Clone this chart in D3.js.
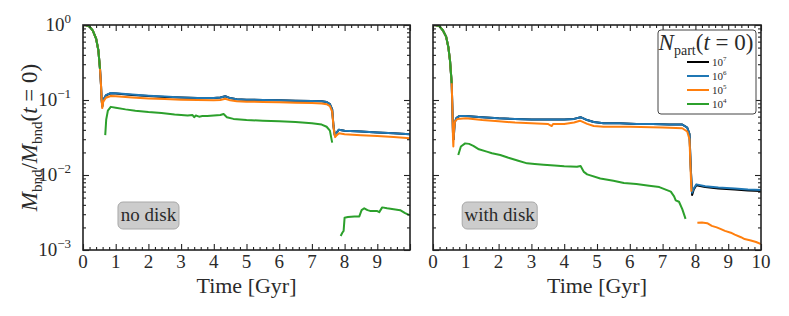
<!DOCTYPE html>
<html>
<head>
<meta charset="utf-8">
<script src="https://cdn.jsdelivr.net/npm/d3@7"></script>
<style>
  body { margin: 0; background: #fff; }
  svg { display: block; }
</style>
</head>
<body>
<div id="chart"></div>
<script>
// ---- data: [time (Gyr), Mbnd / Mbnd(t=0)] ----
var xTicks = [0, 1, 2, 3, 4, 5, 6, 7, 8, 9, 10];
var yTicks = [1e-3, 1e-2, 1e-1, 1];
var yTickExp = ['\u22123', '\u22122', '\u22121', '0'];
var legendLabels = ['7', '6', '5', '4'];
var seriesColors = ['#000000', '#1f77b4', '#ff7f0e', '#2ca02c'];
var panelLabels = ['no disk', 'with disk'];

// early tidal decline shared by all resolutions
var earlyNoDisk = [[0, 1.0], [0.1, 0.99], [0.2, 0.95], [0.3, 0.84], [0.4, 0.66], [0.47, 0.46], [0.52, 0.26]];
var earlyDisk = [[0, 1.0], [0.1, 0.99], [0.2, 0.96], [0.3, 0.85], [0.4, 0.7], [0.47, 0.5], [0.52, 0.33], [0.55, 0.22], [0.57, 0.167]];

// no disk
var noDisk1e7 = [[0.55, 0.16], [0.57, 0.1], [0.59, 0.082], [0.62, 0.1], [0.7, 0.115], [0.85, 0.123], [1.0, 0.122], [1.5, 0.117], [2, 0.113], [2.5, 0.11], [3, 0.108], [3.5, 0.106], [4.0, 0.106], [4.2, 0.108], [4.35, 0.112], [4.5, 0.106], [4.7, 0.102], [5.0, 0.101], [5.5, 0.1], [6, 0.099], [6.5, 0.098], [7.0, 0.097], [7.3, 0.096], [7.45, 0.094], [7.55, 0.088], [7.62, 0.075], [7.66, 0.045], [7.7, 0.034], [7.74, 0.036], [7.82, 0.04], [8.0, 0.039], [8.5, 0.038], [9.0, 0.037], [9.5, 0.036], [10, 0.035]];
var noDisk1e6 = [[0.55, 0.16], [0.57, 0.1], [0.59, 0.082], [0.62, 0.1], [0.7, 0.116], [0.85, 0.124], [1.0, 0.123], [1.5, 0.118], [2, 0.114], [2.5, 0.111], [3, 0.108], [3.5, 0.106], [4.0, 0.106], [4.2, 0.108], [4.35, 0.112], [4.5, 0.106], [4.7, 0.102], [5.0, 0.101], [5.5, 0.1], [6, 0.099], [6.5, 0.098], [7.0, 0.097], [7.3, 0.096], [7.45, 0.094], [7.55, 0.088], [7.62, 0.075], [7.66, 0.045], [7.7, 0.034], [7.74, 0.036], [7.82, 0.04], [8.0, 0.039], [8.5, 0.038], [9.0, 0.037], [9.5, 0.036], [10, 0.035]];
var noDisk1e5 = [[0.55, 0.16], [0.57, 0.1], [0.59, 0.078], [0.62, 0.095], [0.7, 0.107], [0.85, 0.113], [1.0, 0.112], [1.5, 0.108], [2, 0.105], [2.5, 0.103], [3, 0.101], [3.5, 0.1], [4, 0.099], [4.2, 0.1], [4.35, 0.104], [4.5, 0.099], [4.7, 0.096], [5, 0.095], [5.5, 0.094], [6, 0.093], [6.5, 0.092], [7, 0.091], [7.3, 0.09], [7.45, 0.088], [7.55, 0.083], [7.62, 0.07], [7.67, 0.04], [7.71, 0.032], [7.76, 0.034], [7.83, 0.036], [8, 0.035], [8.5, 0.034], [9, 0.033], [9.5, 0.032], [10, 0.031]];
var noDisk1e4 = [null, [0.68, 0.034], [0.71, 0.055], [0.76, 0.072], [0.85, 0.081], [1.0, 0.079], [1.3, 0.075], [1.6, 0.072], [2.0, 0.069], [2.4, 0.067], [2.8, 0.064], [3.2, 0.062], [3.35, 0.063], [3.4, 0.059], [3.45, 0.062], [3.55, 0.06], [3.65, 0.061], [3.8, 0.061], [4.0, 0.062], [4.2, 0.063], [4.3, 0.065], [4.4, 0.059], [4.6, 0.056], [5, 0.054], [5.5, 0.053], [6, 0.052], [6.5, 0.051], [7, 0.049], [7.3, 0.047], [7.45, 0.044], [7.55, 0.039], [7.62, 0.027], null, [7.88, 0.00154], [7.93, 0.0017], [7.97, 0.0018], [8.0, 0.0027], [8.1, 0.00275], [8.3, 0.0028], [8.45, 0.0028], [8.52, 0.0034], [8.6, 0.0036], [8.7, 0.0034], [8.8, 0.0033], [9.0, 0.0033], [9.06, 0.0032], [9.15, 0.0037], [9.3, 0.0036], [9.5, 0.0035], [9.7, 0.0034], [9.85, 0.0031], [10, 0.0029]];

// with disk
var disk1e7 = [[0.59, 0.08], [0.61, 0.035], [0.63, 0.03], [0.66, 0.05], [0.72, 0.058], [0.8, 0.061], [1.0, 0.061], [1.5, 0.059], [2, 0.057], [2.5, 0.056], [3, 0.055], [3.5, 0.055], [4, 0.055], [4.3, 0.056], [4.5, 0.059], [4.7, 0.054], [4.9, 0.051], [5.2, 0.049], [5.7, 0.049], [6.2, 0.048], [6.7, 0.048], [7.2, 0.047], [7.6, 0.047], [7.75, 0.043], [7.82, 0.035], [7.86, 0.012], [7.9, 0.0054], [7.95, 0.0064], [8.03, 0.0073], [8.3, 0.0069], [8.7, 0.0066], [9.2, 0.0064], [9.6, 0.0062], [10, 0.0061]];
var disk1e6 = [[0.59, 0.08], [0.61, 0.035], [0.63, 0.03], [0.66, 0.05], [0.72, 0.058], [0.8, 0.061], [1.0, 0.061], [1.5, 0.059], [2, 0.057], [2.5, 0.056], [3, 0.055], [3.5, 0.055], [4, 0.055], [4.3, 0.056], [4.5, 0.059], [4.7, 0.054], [4.9, 0.051], [5.2, 0.049], [5.7, 0.049], [6.2, 0.048], [6.7, 0.048], [7.2, 0.047], [7.6, 0.047], [7.75, 0.043], [7.82, 0.035], [7.86, 0.012], [7.9, 0.0058], [7.95, 0.0066], [8.03, 0.0075], [8.3, 0.0071], [8.7, 0.0068], [9.2, 0.0066], [9.6, 0.0064], [10, 0.0063]];
var disk1e5 = [[0.59, 0.08], [0.61, 0.03], [0.62, 0.024], [0.64, 0.04], [0.67, 0.052], [0.75, 0.056], [1.0, 0.057], [1.5, 0.054], [2, 0.052], [2.5, 0.05], [3, 0.049], [3.5, 0.048], [3.58, 0.046], [3.62, 0.045], [3.66, 0.048], [4, 0.048], [4.3, 0.05], [4.48, 0.053], [4.7, 0.048], [4.9, 0.045], [5.2, 0.044], [6, 0.044], [7, 0.043], [7.6, 0.042], [7.75, 0.038], [7.82, 0.03], [7.86, 0.01], [7.88, 0.006], null, [8.06, 0.0023], [8.2, 0.00232], [8.36, 0.00228], [8.5, 0.0021], [8.65, 0.002], [8.78, 0.0019], [8.9, 0.0018], [9.08, 0.0017], [9.2, 0.0016], [9.39, 0.00148], [9.5, 0.0014], [9.69, 0.00134], [9.85, 0.00128], [10, 0.0012]];
var disk1e4 = [null, [0.77, 0.0185], [0.85, 0.024], [0.98, 0.0264], [1.1, 0.026], [1.23, 0.0245], [1.4, 0.022], [1.64, 0.0205], [1.8, 0.0195], [2.05, 0.0185], [2.3, 0.017], [2.6, 0.0155], [2.87, 0.0143], [3.1, 0.014], [3.37, 0.0137], [3.7, 0.0134], [4.0, 0.0131], [4.39, 0.0129], [4.5, 0.0132], [4.6, 0.011], [4.7, 0.0102], [5.1, 0.009], [5.5, 0.0084], [5.82, 0.0078], [6.2, 0.0076], [6.59, 0.0072], [6.9, 0.0069], [7.25, 0.006], [7.35, 0.0052], [7.4, 0.0046], [7.5, 0.0044], [7.6, 0.0035], [7.7, 0.0026]];

var panels = [
  { left: 83, right: 410, early: earlyNoDisk, series: [noDisk1e7, noDisk1e6, noDisk1e5, noDisk1e4], yLabels: true, xTickLabels: [0, 1, 2, 3, 4, 5, 6, 7, 8, 9] },
  { left: 433, right: 761, early: earlyDisk, series: [disk1e7, disk1e6, disk1e5, disk1e4], yLabels: false, xTickLabels: xTicks }
];

var width = 789, height = 316, plotTop = 25, plotBottom = 250;

var svg = d3.select('#chart').append('svg')
  .attr('width', width).attr('height', height)
  .attr('font-family', "'Liberation Serif', 'DejaVu Serif', serif")
  .attr('fill', '#2a2a2a');

var yscale = d3.scaleLog().domain([1e-3, 1]).range([plotBottom, plotTop]);

// minor ticks on the log axis
var yMinor = [];
[1e-3, 1e-2, 1e-1].forEach(function (d) {
  for (var k = 2; k <= 9; k++) yMinor.push(d * k);
});
var xMinor = d3.range(0, 10.001, 0.2).filter(function (d) { return Math.abs(d - Math.round(d)) > 1e-6; });

panels.forEach(function (p, i) {
  var xscale = d3.scaleLinear().domain([0, 10]).range([p.left, p.right]);
  var g = svg.append('g');

  g.append('clipPath').attr('id', 'clip' + i)
    .append('rect').attr('x', p.left).attr('y', plotTop)
    .attr('width', p.right - p.left).attr('height', plotBottom - plotTop);

  var line = d3.line()
    .defined(function (d) { return d !== null; })
    .x(function (d) { return xscale(d[0]); })
    .y(function (d) { return yscale(d[1]); });

  var lines = g.append('g').attr('clip-path', 'url(#clip' + i + ')');
  p.series.forEach(function (s, j) {
    lines.append('path')
      .datum(p.early.concat(s))
      .attr('fill', 'none')
      .attr('stroke', seriesColors[j])
      .attr('stroke-width', 2)
      .attr('stroke-linejoin', 'round')
      .attr('d', line);
  });

  // ticks on all four sides, pointing inward
  function tickAxis(axis, tr, vals, size) {
    var a = g.append('g').attr('transform', tr)
      .call(axis.tickValues(vals).tickSize(size).tickFormat(''));
    a.attr('font-family', null);
    a.select('.domain').remove();
    a.selectAll('line').attr('stroke', '#222').attr('stroke-width', 1.1);
  }
  tickAxis(d3.axisBottom(xscale), 'translate(0,' + plotBottom + ')', xTicks, -6);
  tickAxis(d3.axisBottom(xscale), 'translate(0,' + plotBottom + ')', xMinor, -3);
  tickAxis(d3.axisTop(xscale), 'translate(0,' + plotTop + ')', xTicks, -6);
  tickAxis(d3.axisTop(xscale), 'translate(0,' + plotTop + ')', xMinor, -3);
  tickAxis(d3.axisLeft(yscale), 'translate(' + p.left + ',0)', yTicks, -6);
  tickAxis(d3.axisLeft(yscale), 'translate(' + p.left + ',0)', yMinor, -3);
  tickAxis(d3.axisRight(yscale), 'translate(' + p.right + ',0)', yTicks, -6);
  tickAxis(d3.axisRight(yscale), 'translate(' + p.right + ',0)', yMinor, -3);

  g.append('rect')
    .attr('x', p.left).attr('y', plotTop)
    .attr('width', p.right - p.left).attr('height', plotBottom - plotTop)
    .attr('fill', 'none').attr('stroke', '#222').attr('stroke-width', 1.6);

  // x tick labels
  g.selectAll('.xl').data(p.xTickLabels).enter().append('text')
    .attr('x', function (d) { return xscale(d); })
    .attr('y', 268)
    .attr('text-anchor', 'middle')
    .attr('font-size', 19)
    .text(function (d) { return d; });

  g.append('text')
    .attr('x', (p.left + p.right) / 2).attr('y', 293)
    .attr('text-anchor', 'middle')
    .attr('font-size', 22)
    .text('Time [Gyr]');

  if (p.yLabels) {
    yTicks.forEach(function (d, k) {
      var t = g.append('text')
        .attr('x', 71).attr('y', yscale(d) + 6)
        .attr('text-anchor', 'end')
        .attr('font-size', 19);
      t.append('tspan').text('10');
      t.append('tspan').attr('font-size', 13).attr('dy', -8).text(yTickExp[k]);
    });
  }

  // panel label box
  var bx = xscale(i === 0 ? 1.07 : 0.89);
  var bw = i === 0 ? 61 : 75;
  g.append('rect')
    .attr('x', bx).attr('y', 202).attr('width', bw).attr('height', 27)
    .attr('rx', 5)
    .attr('fill', '#cccccc').attr('stroke', '#a8a8a8').attr('stroke-width', 1);
  g.append('text')
    .attr('x', bx + bw / 2).attr('y', 221)
    .attr('text-anchor', 'middle')
    .attr('font-size', 19)
    .text(panelLabels[i]);
});

// y axis title
var yt = svg.append('text')
  .attr('transform', 'translate(37,' + ((plotTop + plotBottom) / 2) + ') rotate(-90)')
  .attr('text-anchor', 'middle')
  .attr('font-size', 23);
yt.append('tspan').attr('font-style', 'italic').text('M');
yt.append('tspan').attr('font-size', 15).attr('dy', 5).text('bnd');
yt.append('tspan').attr('dy', -5).text('/');
yt.append('tspan').attr('font-style', 'italic').text('M');
yt.append('tspan').attr('font-size', 15).attr('dy', 5).text('bnd');
yt.append('tspan').attr('dy', -5).text('(');
yt.append('tspan').attr('font-style', 'italic').text('t');
yt.append('tspan').text(' = 0)');

// legend
var lg = svg.append('g');
lg.append('rect')
  .attr('x', 658).attr('y', 30).attr('width', 98).attr('height', 84)
  .attr('rx', 3)
  .attr('fill', '#fff').attr('stroke', '#444').attr('stroke-width', 1);
var lt = lg.append('text').attr('x', 706).attr('y', 50)
  .attr('text-anchor', 'middle').attr('font-size', 23);
lt.append('tspan').attr('font-style', 'italic').text('N');
lt.append('tspan').attr('font-size', 14).attr('dy', 5).text('part');
lt.append('tspan').attr('dy', -5).text('(');
lt.append('tspan').attr('font-style', 'italic').text('t');
lt.append('tspan').text(' = 0)');

legendLabels.forEach(function (d, k) {
  var yy = 62 + k * 14;
  lg.append('line')
    .attr('x1', 687).attr('x2', 709).attr('y1', yy).attr('y2', yy)
    .attr('stroke', seriesColors[k]).attr('stroke-width', 2);
  var t = lg.append('text').attr('x', 712).attr('y', yy + 4).attr('font-size', 11);
  t.append('tspan').text('10');
  t.append('tspan').attr('font-size', 7).attr('dy', -5).text(d);
});
</script>
</body>
</html>
